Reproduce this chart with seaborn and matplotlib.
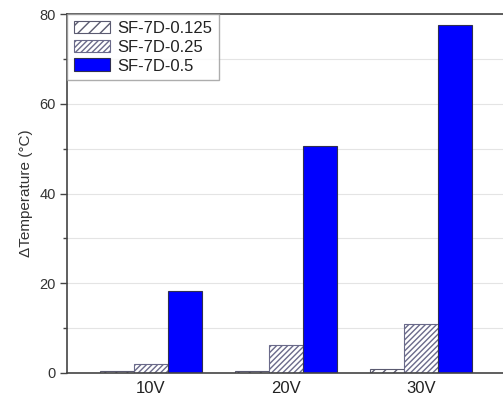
import matplotlib
matplotlib.use("Agg")
import matplotlib.pyplot as plt
import seaborn as sns
import pandas as pd
from matplotlib.ticker import MultipleLocator

voltages = ["10V", "20V", "30V"]
series = ["SF-7D-0.125", "SF-7D-0.25", "SF-7D-0.5"]
dt_0125 = [0.5, 0.5, 0.9]
dt_025 = [1.9, 6.2, 10.9]
dt_05 = [18.3, 50.6, 77.5]

df = pd.DataFrame({
    "Voltage": voltages * 3,
    "Sample": [s for s in series for _ in voltages],
    "dT": dt_0125 + dt_025 + dt_05,
})

sns.set_theme(style="white")
plt.rcParams["font.family"] = ["Liberation Sans", "DejaVu Sans"]

fig = plt.figure(figsize=(5.03, 4.0), dpi=100)
ax = fig.add_axes([67 / 503, 27 / 400, 438 / 503, 359 / 400])

fills = {"SF-7D-0.125": "#ffffff", "SF-7D-0.25": "#ffffff", "SF-7D-0.5": "#0000ff"}
sns.barplot(data=df, x="Voltage", y="dT", hue="Sample", hue_order=series,
            palette=fills, width=0.756, ax=ax, errorbar=None, saturation=1,
            legend=False)

hatches = ["///", "//////", ""]
edges = ["#5a5a70", "#6a6a8a", "#303050"]
for cont, h, ec in zip(ax.containers, hatches, edges):
    for p in cont:
        p.set_hatch(h)
        p.set_edgecolor(ec)
        p.set_linewidth(0.8)

ax.set_xlim(-0.622, 2.622)
ax.set_ylim(0, 80)
ax.yaxis.set_major_locator(MultipleLocator(20))
ax.yaxis.set_minor_locator(MultipleLocator(10))
ax.grid(True, axis="y", which="both", color="#e4e4e4", linewidth=0.8)
ax.set_axisbelow(True)

for side in ["left", "bottom", "top", "right"]:
    ax.spines[side].set_color("#444444")
    ax.spines[side].set_linewidth(1.2)

ax.tick_params(axis="y", which="major", direction="out", length=5, width=1,
               color="#444444", labelsize=10.5, labelcolor="#333333", left=True, pad=3)
ax.tick_params(axis="y", which="minor", direction="out", length=3, width=1,
               color="#444444", left=True)
ax.tick_params(axis="x", length=0, labelsize=12, labelcolor="#222222", pad=6)

ax.set_xlabel("")
ax.set_ylabel("\u0394Temperature (\u00b0C)", fontsize=11, color="#333333", labelpad=5)

handles = [cont[0] for cont in ax.containers]
leg = ax.legend(handles=handles, labels=series, loc="upper left", borderaxespad=0,
                fancybox=False, frameon=True, fontsize=12, handlelength=2.2,
                handleheight=0.8, labelspacing=0.22, borderpad=0.4,
                handletextpad=0.4, edgecolor="#999999")
leg.get_frame().set_linewidth(1.0)
for t in leg.get_texts():
    t.set_color("#222222")

fig.savefig("out.png", dpi=100)
